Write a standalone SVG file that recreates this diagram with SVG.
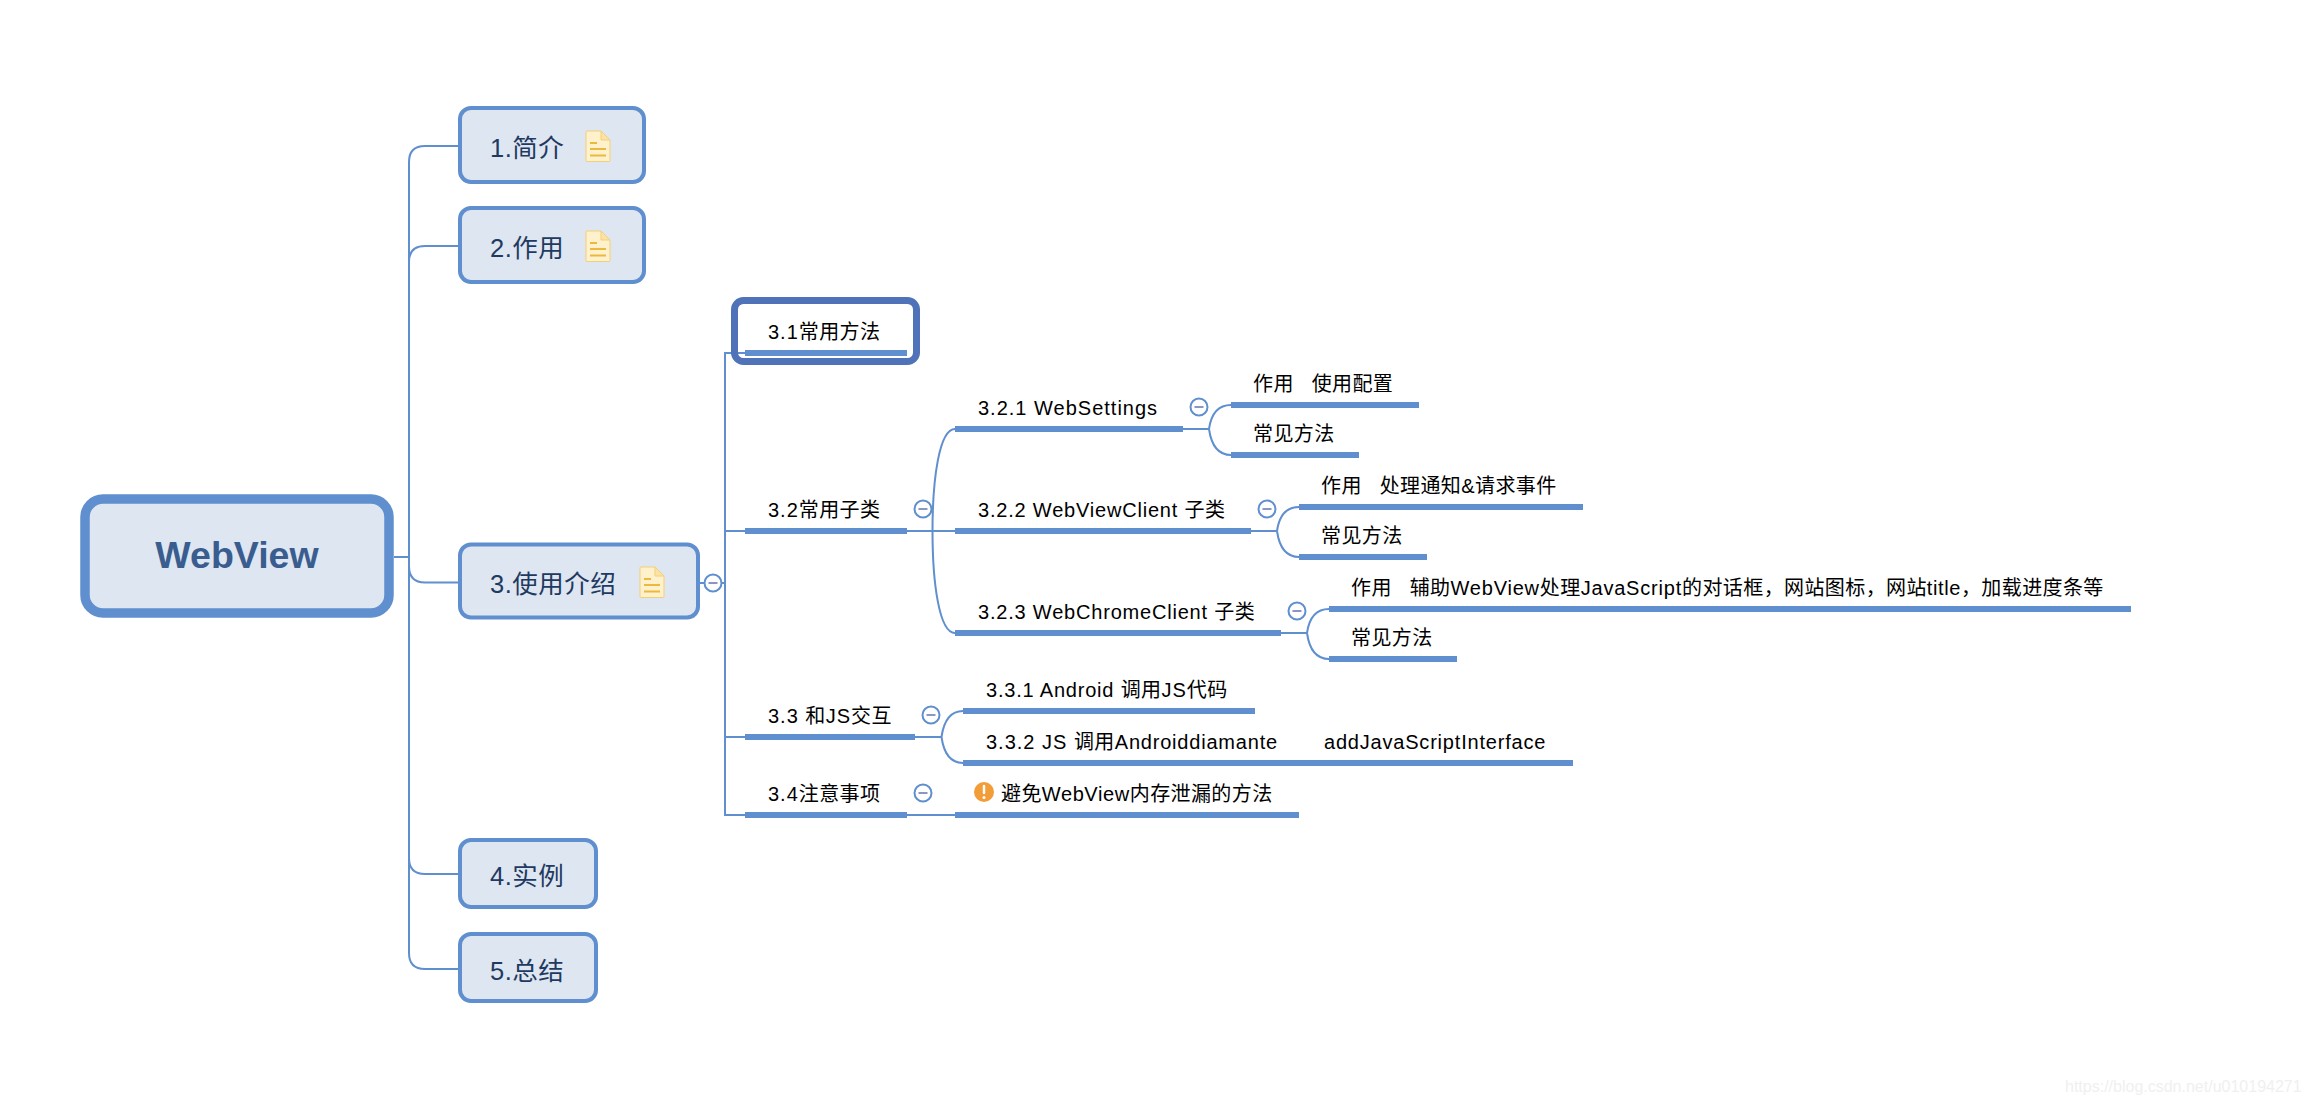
<svg xmlns="http://www.w3.org/2000/svg" width="2306" height="1104" viewBox="0 0 2306 1104">
<style>
text{font-family:"Liberation Sans","Noto Sans CJK SC",sans-serif}
.box{fill:#dee6f1;stroke:#5f8fce;stroke-width:4}
.t1{font-size:25.5px;fill:#1f3a61;letter-spacing:.5px}
.t2{font-size:20px;fill:#000;letter-spacing:.4px}
.l{letter-spacing:1px}
.m{letter-spacing:.8px}
.s{letter-spacing:.6px}
.ul{fill:#5f8fce}
.ln{fill:none;stroke:#5f8fce;stroke-width:2}
.col{fill:#fff;stroke:#5f8fce;stroke-width:2}
.dash{stroke:#8b96c4;stroke-width:2}
</style>
<defs>
<g id="doc">
<path d="M1 0H15L24 9V29.500Q24 30.500 23 30.500H1Q0 30.500 0 29.500V1Q0 0 1 0Z" fill="#fff1cc" stroke="#f5cf75" stroke-width="1"/>
<path d="M15 0V9H24Z" fill="#fbe3a6" stroke="#f5cf75" stroke-width="1"/>
<path d="M4 12H11M4 18H20M4 24.500H20" stroke="#ecb93f" stroke-width="2.200" fill="none"/>
</g>
<g id="minus">
<circle r="8.500" class="col"/>
<path d="M-4.500 0H4.500" class="dash"/>
</g>
</defs>
<rect width="2306" height="1104" fill="#fff"/>
<g id="connectors">
<path class="ln" d="M394 557H409"/>
<path class="ln" d="M459 146H425Q409 146 409 162V953Q409 969 425 969H459"/>
<path class="ln" d="M459 246H425Q409 246 409 262"/>
<path class="ln" d="M409 566Q409 582.500 425 582.500H459"/>
<path class="ln" d="M409 858Q409 874 425 874H459"/>
<path class="ln" d="M700 583H725"/>
<path class="ln" d="M745 353H725V815H745"/>
<path class="ln" d="M725 531H745"/>
<path class="ln" d="M725 737H745"/>
<path class="ln" d="M907 531H955"/>
<path class="ln" d="M932.500 531C932.500 480 939 429 955 429M932.500 531C932.500 582 939 633 955 633"/>
<path class="ln" d="M1183 429H1209"/>
<path class="ln" d="M1209 429C1211 415 1217 405 1231 405M1209 429C1211 443 1217 455 1231 455"/>
<path class="ln" d="M1251 531H1277"/>
<path class="ln" d="M1277 531C1279 517 1285 507 1299 507M1277 531C1279 545 1285 557 1299 557"/>
<path class="ln" d="M1281 633H1307"/>
<path class="ln" d="M1307 633C1309 619 1315 609 1329 609M1307 633C1309 647 1315 659 1329 659"/>
<path class="ln" d="M915 737H942"/>
<path class="ln" d="M941.500 737C943.500 723 949 711 963 711M941.500 737C943.500 751 949 763 963 763"/>
<path class="ln" d="M907 815H955"/>
</g>
<g id="root">
<rect x="85" y="499" width="304" height="114" rx="18" fill="#dee6f1" stroke="#5f8fce" stroke-width="9.500"/>
<text x="237" y="568" text-anchor="middle" font-size="37.500" font-weight="700" fill="#3a5d8f">WebView</text>
</g>
<g id="n1"><rect class="box" x="460" y="108" width="184" height="74" rx="11"/><text class="t1" x="490" y="157">1.简介</text><use href="#doc" x="586" y="131"/></g>
<g id="n2"><rect class="box" x="460" y="208" width="184" height="74" rx="11"/><text class="t1" x="490" y="257">2.作用</text><use href="#doc" x="586" y="231"/></g>
<g id="n3"><rect class="box" x="460" y="544.500" width="238" height="73" rx="11"/><text class="t1" x="490" y="593">3.使用介绍</text><use href="#doc" x="640" y="567"/><use href="#minus" x="713" y="583"/></g>
<g id="n4"><rect class="box" x="460" y="840" width="136" height="67" rx="11"/><text class="t1" x="490" y="885">4.实例</text></g>
<g id="n5"><rect class="box" x="460" y="934" width="136" height="67" rx="11"/><text class="t1" x="490" y="980">5.总结</text></g>
<g id="n31"><rect x="734.500" y="300.500" width="182" height="61" rx="9" fill="none" stroke="#4f72b8" stroke-width="7"/><rect class="ul" x="745" y="350" width="162" height="6"/><text class="t2" x="768" y="339"><tspan class="l">3.1</tspan>常用方法</text></g>
<g id="n32"><rect class="ul" x="745" y="528" width="162" height="6"/><text class="t2" x="768" y="517"><tspan class="l">3.2</tspan>常用子类</text><use href="#minus" x="923" y="509"/></g>
<g id="n321"><rect class="ul" x="955" y="426" width="228" height="6"/><text class="t2 l" x="978" y="415">3.2.1 WebSettings</text><use href="#minus" x="1199" y="407"/></g>
<g id="n3211"><rect class="ul" x="1231" y="402" width="188" height="6"/><text class="t2" x="1253" y="391" xml:space="preserve">作用   使用配置</text></g>
<g id="n3212"><rect class="ul" x="1231" y="452" width="128" height="6"/><text class="t2" x="1253" y="441">常见方法</text></g>
<g id="n322"><rect class="ul" x="955" y="528" width="296" height="6"/><text class="t2" x="978" y="517"><tspan class="m">3.2.2 WebViewClient </tspan>子类</text><use href="#minus" x="1267" y="509"/></g>
<g id="n3221"><rect class="ul" x="1299" y="504" width="284" height="6"/><text class="t2" x="1321" y="493" xml:space="preserve">作用   处理通知&amp;请求事件</text></g>
<g id="n3222"><rect class="ul" x="1299" y="554" width="128" height="6"/><text class="t2" x="1321" y="543">常见方法</text></g>
<g id="n323"><rect class="ul" x="955" y="630" width="326" height="6"/><text class="t2" x="978" y="619"><tspan class="m">3.2.3 WebChromeClient </tspan>子类</text><use href="#minus" x="1297" y="611"/></g>
<g id="n3231"><rect class="ul" x="1329" y="606" width="802" height="6"/><text class="t2" x="1351" y="595" xml:space="preserve">作用   辅助<tspan class="m">WebView</tspan>处理<tspan class="m">JavaScript</tspan>的对话框，网站图标，网站<tspan class="s">title</tspan>，加载进度条等</text></g>
<g id="n3232"><rect class="ul" x="1329" y="656" width="128" height="6"/><text class="t2" x="1351" y="645">常见方法</text></g>
<g id="n33"><rect class="ul" x="745" y="734" width="170" height="6"/><text class="t2" x="768" y="723"><tspan class="l">3.3 </tspan>和<tspan class="l">JS</tspan>交互</text><use href="#minus" x="931" y="715"/></g>
<g id="n331"><rect class="ul" x="963" y="708" width="292" height="6"/><text class="t2" x="986" y="697"><tspan class="m">3.3.1 Android </tspan>调用<tspan class="l">JS</tspan>代码</text></g>
<g id="n332"><rect class="ul" x="963" y="760" width="610" height="6"/><text class="t2" x="986" y="749"><tspan class="l">3.3.2 JS </tspan>调用<tspan class="m">Androiddiamante</tspan></text><text class="t2 m" x="1324" y="749">addJavaScriptInterface</text></g>
<g id="n34"><rect class="ul" x="745" y="812" width="162" height="6"/><text class="t2" x="768" y="801"><tspan class="l">3.4</tspan>注意事项</text><use href="#minus" x="923" y="793"/></g>
<g id="n341"><rect class="ul" x="955" y="812" width="344" height="6"/><circle cx="984" cy="792" r="10" fill="#f29d38"/><path d="M984 786V793" stroke="#fff" stroke-width="2.500" stroke-linecap="round"/><circle cx="984" cy="797.500" r="1.500" fill="#fff"/><text class="t2" x="1001" y="801">避免<tspan class="s">WebView</tspan>内存泄漏的方法</text></g>
<text x="2065" y="1092" font-size="16" fill="#f0f0f0">https://blog.csdn.net/u010194271</text>
</svg>
